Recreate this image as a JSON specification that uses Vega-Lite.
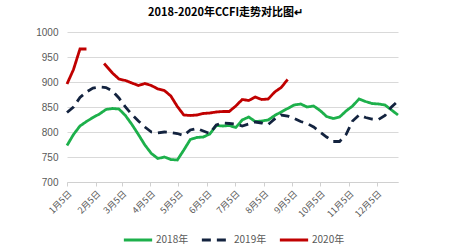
{
  "$schema": "https://vega.github.io/schema/vega-lite/v6.json",
  "width": 331,
  "height": 150,
  "autosize": "none",
  "padding": {"left": 67, "top": 32, "right": 52, "bottom": 65},
  "background": "white",
  "title": {
    "text": "2018-2020年CCFI走势对比图↵",
    "anchor": "middle",
    "font": "Noto Sans CJK SC",
    "fontSize": 11,
    "fontWeight": "bold",
    "color": "#000000",
    "offset": 9,
    "dx": -7
  },
  "config": {
    "view": {"stroke": null},
    "axis": {
      "labelFont": "Noto Sans CJK SC",
      "labelColor": "#595959",
      "domainColor": "#D0D0D0",
      "tickColor": "#D0D0D0",
      "gridColor": "#D9D9D9"
    },
    "legend": {
      "symbolType": "stroke",
      "symbolSize": 800,
      "symbolStrokeWidth": 3,
      "labelFont": "Noto Sans CJK SC",
      "labelFontSize": 10,
      "labelColor": "#595959",
      "columnPadding": 6,
      "labelOffset": 2,
      "padding": 0
    }
  },
  "data": {
    "values": [
      {"date": "2018-01-05", "year": "2018年", "value": 773},
      {"date": "2018-01-12", "year": "2018年", "value": 795},
      {"date": "2018-01-19", "year": "2018年", "value": 812},
      {"date": "2018-01-26", "year": "2018年", "value": 821},
      {"date": "2018-02-02", "year": "2018年", "value": 829},
      {"date": "2018-02-09", "year": "2018年", "value": 836},
      {"date": "2018-02-16", "year": "2018年", "value": 845},
      {"date": "2018-02-23", "year": "2018年", "value": 847},
      {"date": "2018-03-02", "year": "2018年", "value": 846},
      {"date": "2018-03-09", "year": "2018年", "value": 833},
      {"date": "2018-03-16", "year": "2018年", "value": 815},
      {"date": "2018-03-23", "year": "2018年", "value": 795},
      {"date": "2018-03-30", "year": "2018年", "value": 774},
      {"date": "2018-04-06", "year": "2018年", "value": 757},
      {"date": "2018-04-13", "year": "2018年", "value": 747},
      {"date": "2018-04-20", "year": "2018年", "value": 750},
      {"date": "2018-04-27", "year": "2018年", "value": 745},
      {"date": "2018-05-04", "year": "2018年", "value": 744},
      {"date": "2018-05-11", "year": "2018年", "value": 764},
      {"date": "2018-05-18", "year": "2018年", "value": 785},
      {"date": "2018-05-25", "year": "2018年", "value": 789},
      {"date": "2018-06-01", "year": "2018年", "value": 790},
      {"date": "2018-06-08", "year": "2018年", "value": 796},
      {"date": "2018-06-15", "year": "2018年", "value": 813},
      {"date": "2018-06-22", "year": "2018年", "value": 812},
      {"date": "2018-06-29", "year": "2018年", "value": 813},
      {"date": "2018-07-06", "year": "2018年", "value": 809},
      {"date": "2018-07-13", "year": "2018年", "value": 824},
      {"date": "2018-07-20", "year": "2018年", "value": 830},
      {"date": "2018-07-27", "year": "2018年", "value": 821},
      {"date": "2018-08-03", "year": "2018年", "value": 822},
      {"date": "2018-08-10", "year": "2018年", "value": 824},
      {"date": "2018-08-17", "year": "2018年", "value": 833},
      {"date": "2018-08-24", "year": "2018年", "value": 840},
      {"date": "2018-08-31", "year": "2018年", "value": 847},
      {"date": "2018-09-07", "year": "2018年", "value": 854},
      {"date": "2018-09-14", "year": "2018年", "value": 856},
      {"date": "2018-09-21", "year": "2018年", "value": 850},
      {"date": "2018-09-28", "year": "2018年", "value": 852},
      {"date": "2018-10-05", "year": "2018年", "value": 843},
      {"date": "2018-10-12", "year": "2018年", "value": 831},
      {"date": "2018-10-19", "year": "2018年", "value": 827},
      {"date": "2018-10-26", "year": "2018年", "value": 830},
      {"date": "2018-11-02", "year": "2018年", "value": 842},
      {"date": "2018-11-09", "year": "2018年", "value": 852},
      {"date": "2018-11-16", "year": "2018年", "value": 866},
      {"date": "2018-11-23", "year": "2018年", "value": 861},
      {"date": "2018-11-30", "year": "2018年", "value": 857},
      {"date": "2018-12-07", "year": "2018年", "value": 856},
      {"date": "2018-12-14", "year": "2018年", "value": 854},
      {"date": "2018-12-21", "year": "2018年", "value": 844},
      {"date": "2018-12-28", "year": "2018年", "value": 834},

      {"date": "2018-01-05", "year": "2019年", "value": 839},
      {"date": "2018-01-12", "year": "2019年", "value": 850},
      {"date": "2018-01-19", "year": "2019年", "value": 869},
      {"date": "2018-01-26", "year": "2019年", "value": 880},
      {"date": "2018-02-02", "year": "2019年", "value": 888},
      {"date": "2018-02-09", "year": "2019年", "value": 890},
      {"date": "2018-02-16", "year": "2019年", "value": 889},
      {"date": "2018-02-23", "year": "2019年", "value": 882},
      {"date": "2018-03-02", "year": "2019年", "value": 868},
      {"date": "2018-03-09", "year": "2019年", "value": 850},
      {"date": "2018-03-16", "year": "2019年", "value": 835},
      {"date": "2018-03-23", "year": "2019年", "value": 822},
      {"date": "2018-03-30", "year": "2019年", "value": 810},
      {"date": "2018-04-06", "year": "2019年", "value": 800},
      {"date": "2018-04-13", "year": "2019年", "value": 798},
      {"date": "2018-04-20", "year": "2019年", "value": 800},
      {"date": "2018-04-27", "year": "2019年", "value": 799},
      {"date": "2018-05-04", "year": "2019年", "value": 797},
      {"date": "2018-05-11", "year": "2019年", "value": 793},
      {"date": "2018-05-18", "year": "2019年", "value": 804},
      {"date": "2018-05-25", "year": "2019年", "value": 807},
      {"date": "2018-06-01", "year": "2019年", "value": 802},
      {"date": "2018-06-08", "year": "2019年", "value": 797},
      {"date": "2018-06-15", "year": "2019年", "value": 814},
      {"date": "2018-06-22", "year": "2019年", "value": 818},
      {"date": "2018-06-29", "year": "2019年", "value": 817},
      {"date": "2018-07-06", "year": "2019年", "value": 816},
      {"date": "2018-07-13", "year": "2019年", "value": 812},
      {"date": "2018-07-20", "year": "2019年", "value": 816},
      {"date": "2018-07-27", "year": "2019年", "value": 820},
      {"date": "2018-08-03", "year": "2019年", "value": 818},
      {"date": "2018-08-10", "year": "2019年", "value": 815},
      {"date": "2018-08-17", "year": "2019年", "value": 826},
      {"date": "2018-08-24", "year": "2019年", "value": 834},
      {"date": "2018-08-31", "year": "2019年", "value": 832},
      {"date": "2018-09-07", "year": "2019年", "value": 827},
      {"date": "2018-09-14", "year": "2019年", "value": 821},
      {"date": "2018-09-21", "year": "2019年", "value": 817},
      {"date": "2018-09-28", "year": "2019年", "value": 810},
      {"date": "2018-10-05", "year": "2019年", "value": 800},
      {"date": "2018-10-12", "year": "2019年", "value": 790},
      {"date": "2018-10-19", "year": "2019年", "value": 781},
      {"date": "2018-10-26", "year": "2019年", "value": 781},
      {"date": "2018-11-02", "year": "2019年", "value": 795},
      {"date": "2018-11-09", "year": "2019年", "value": 822},
      {"date": "2018-11-16", "year": "2019年", "value": 834},
      {"date": "2018-11-23", "year": "2019年", "value": 829},
      {"date": "2018-11-30", "year": "2019年", "value": 826},
      {"date": "2018-12-07", "year": "2019年", "value": 825},
      {"date": "2018-12-14", "year": "2019年", "value": 833},
      {"date": "2018-12-21", "year": "2019年", "value": 850},
      {"date": "2018-12-28", "year": "2019年", "value": 862},

      {"date": "2018-01-05", "year": "2020年", "value": 896},
      {"date": "2018-01-12", "year": "2020年", "value": 925},
      {"date": "2018-01-19", "year": "2020年", "value": 966},
      {"date": "2018-01-26", "year": "2020年", "value": 966},
      {"date": "2018-02-02", "year": "2020年", "value": null},
      {"date": "2018-02-09", "year": "2020年", "value": null},
      {"date": "2018-02-14", "year": "2020年", "value": 937},
      {"date": "2018-02-23", "year": "2020年", "value": 918},
      {"date": "2018-03-02", "year": "2020年", "value": 906},
      {"date": "2018-03-09", "year": "2020年", "value": 903},
      {"date": "2018-03-16", "year": "2020年", "value": 898},
      {"date": "2018-03-23", "year": "2020年", "value": 893},
      {"date": "2018-03-30", "year": "2020年", "value": 897},
      {"date": "2018-04-06", "year": "2020年", "value": 893},
      {"date": "2018-04-13", "year": "2020年", "value": 886},
      {"date": "2018-04-20", "year": "2020年", "value": 883},
      {"date": "2018-04-27", "year": "2020年", "value": 872},
      {"date": "2018-05-04", "year": "2020年", "value": 851},
      {"date": "2018-05-11", "year": "2020年", "value": 834},
      {"date": "2018-05-18", "year": "2020年", "value": 833},
      {"date": "2018-05-25", "year": "2020年", "value": 834},
      {"date": "2018-06-01", "year": "2020年", "value": 837},
      {"date": "2018-06-08", "year": "2020年", "value": 838},
      {"date": "2018-06-15", "year": "2020年", "value": 840},
      {"date": "2018-06-22", "year": "2020年", "value": 841},
      {"date": "2018-06-29", "year": "2020年", "value": 841},
      {"date": "2018-07-06", "year": "2020年", "value": 852},
      {"date": "2018-07-13", "year": "2020年", "value": 865},
      {"date": "2018-07-20", "year": "2020年", "value": 863},
      {"date": "2018-07-27", "year": "2020年", "value": 870},
      {"date": "2018-08-03", "year": "2020年", "value": 865},
      {"date": "2018-08-10", "year": "2020年", "value": 866},
      {"date": "2018-08-17", "year": "2020年", "value": 880},
      {"date": "2018-08-24", "year": "2020年", "value": 889},
      {"date": "2018-08-31", "year": "2020年", "value": 905}
    ]
  },
  "mark": {"type": "line", "strokeWidth": 2.8, "invalid": "break-paths-show-domains", "strokeCap": "butt"},
  "encoding": {
    "x": {
      "field": "date",
      "type": "temporal",
      "scale": {"type": "utc", "domain": [1515110400000, 1545955200000]},
      "axis": {
        "title": null,
        "format": "%-m月%-d日",
        "values": [1515110400000, 1517788800000, 1520208000000, 1522886400000, 1525478400000, 1528156800000, 1530748800000, 1533427200000, 1536105600000, 1538697600000, 1541376000000, 1543968000000],
        "labelAngle": -45,
        "labelFontSize": 9,
        "labelPadding": 3,
        "tickSize": 4,
        "grid": false,
        "labelOverlap": false
      }
    },
    "y": {
      "field": "value",
      "type": "quantitative",
      "scale": {"domain": [700, 1000], "zero": false, "nice": false},
      "axis": {
        "title": null,
        "format": "d",
        "values": [700, 750, 800, 850, 900, 950, 1000],
        "domain": false,
        "ticks": false,
        "labelPadding": 9,
        "labelFontSize": 10,
        "labelFont": "Liberation Sans",
        "grid": true
      }
    },
    "color": {
      "field": "year",
      "type": "nominal",
      "scale": {"domain": ["2018年", "2019年", "2020年"], "range": ["#1DB04B", "#13233F", "#C00000"]},
      "legend": {
        "title": null,
        "orient": "none",
        "direction": "horizontal",
        "legendX": 55,
        "legendY": 192
      }
    },
    "strokeDash": {
      "field": "year",
      "type": "nominal",
      "scale": {"domain": ["2018年", "2019年", "2020年"], "range": [[1, 0], [9, 6], [1, 0]]},
      "legend": {
        "title": null,
        "orient": "none",
        "direction": "horizontal",
        "legendX": 55,
        "legendY": 192
      }
    }
  }
}
